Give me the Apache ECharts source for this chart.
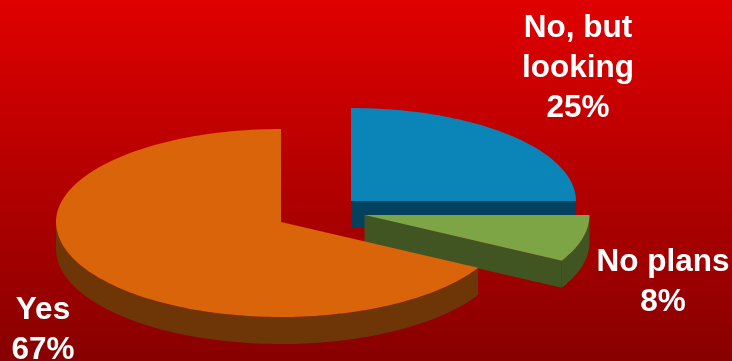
<!DOCTYPE html>
<html>
<head>
<meta charset="utf-8">
<style>html,body{margin:0;padding:0;background:#a00000}#c{width:732px;height:361px}</style>
<script src="https://cdn.jsdelivr.net/npm/echarts@6/dist/echarts.min.js"></script>
</head>
<body>
<div id="c"></div>
<script>
const categories = ['No, but\nlooking', 'No plans', 'Yes'];
const values = [25, 8, 67];
const topColors = ['#0B85B8', '#7DA545', '#DA6409'];
const sideColors = ['#04415F', '#415522', '#6E3506'];
const centersX = [351, 364.5, 281];
const centersY = [201, 215, 222];
const labelX = [578, 663, 43];
const labelY = [66, 280, 328];

const RX = 225, RY_BACK = 93, RY_FRONT = 95, DEPTH = 27;
const total = values.reduce((a, b) => a + b, 0);
const startFrac = [];
values.reduce((s, v, i) => (startFrac[i] = s, s + v), 0);

function pt(cx, cy, deg) {
  const r = deg * Math.PI / 180, c = Math.cos(r);
  return [cx + RX * Math.sin(r), cy - (c > 0 ? RY_BACK : RY_FRONT) * c];
}
function arc(cx, cy, a0, a1) {
  const out = [];
  const n = Math.max(2, Math.ceil(Math.abs(a1 - a0) / 1.5));
  for (let k = 0; k <= n; k++) out.push(pt(cx, cy, a0 + (a1 - a0) * k / n));
  return out;
}

function renderItem(params, api) {
  const i = params.dataIndex;
  const v = api.value(1);
  const a0 = startFrac[i] / total * 360, a1 = a0 + v / total * 360;
  const cx = centersX[i], cy = centersY[i];
  const children = [];
  const side = points => children.push({
    type: 'polygon', shape: { points }, style: { fill: sideColors[i] }
  });
  // cut face at the clockwise end looks towards the viewer in the right half
  if (a1 <= 180) {
    const p = pt(cx, cy, a1);
    side([[cx, cy], p, [p[0], p[1] + DEPTH], [cx, cy + DEPTH]]);
  }
  // outer wall: only the part of the rim that faces the viewer
  const f0 = Math.max(a0, 90), f1 = Math.min(a1, 270);
  if (f1 > f0) {
    const rim = arc(cx, cy, f0, f1);
    side(rim.concat(rim.slice().reverse().map(p => [p[0], p[1] + DEPTH])));
  }
  children.push({
    type: 'polygon',
    shape: { points: [[cx, cy]].concat(arc(cx, cy, a0, a1)) },
    style: { fill: topColors[i] }
  });
  children.push({
    type: 'text',
    style: {
      text: categories[i] + '\n' + v + '%',
      x: labelX[i], y: labelY[i] + 2,
      align: 'center', verticalAlign: 'middle',
      fill: '#fff',
      font: 'bold 31.5px "Liberation Sans", Arial, sans-serif',
      lineHeight: 40
    },
    z2: 10
  });
  return { type: 'group', children };
}

const chart = echarts.init(document.getElementById('c'), null, { renderer: 'canvas' });
chart.setOption({
  animation: false,
  backgroundColor: {
    type: 'linear', x: 0, y: 0, x2: 0, y2: 1,
    colorStops: [{ offset: 0, color: '#E00000' }, { offset: 1, color: '#880000' }]
  },
  series: [{
    type: 'custom',
    coordinateSystem: 'none',
    renderItem,
    silent: true,
    data: values.map((v, i) => [i, v])
  }]
});
</script>
</body>
</html>
